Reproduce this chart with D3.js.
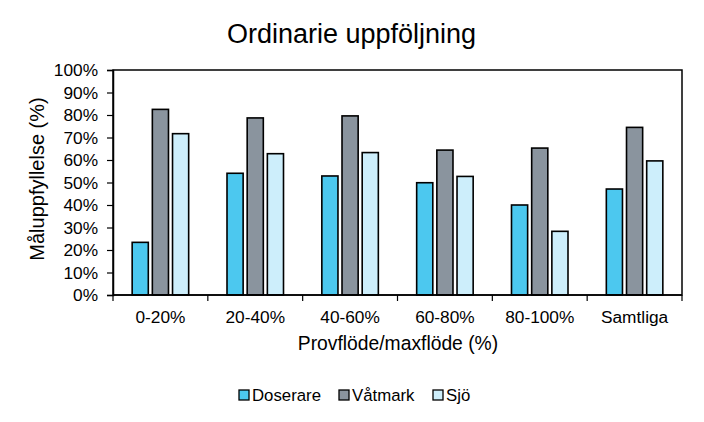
<!DOCTYPE html>
<html><head><meta charset="utf-8">
<script src="https://cdn.jsdelivr.net/npm/d3@7"></script>
<style>body{margin:0;background:#fff}svg{display:block;font-family:"Liberation Sans",Arial,sans-serif}</style>
</head><body><svg width="704" height="422"></svg>
<script>
const categories = ["0-20%","20-40%","40-60%","60-80%","80-100%","Samtliga"];
const seriesNames = ["Doserare","Våtmark","Sjö"];
const doserare = [23.4, 54.1, 52.9, 49.9, 40.0, 47.1];
const vatmark  = [82.5, 78.7, 79.6, 64.4, 65.3, 74.5];
const sjo      = [71.7, 62.8, 63.3, 52.7, 28.3, 59.6];
const yTicks = [0,10,20,30,40,50,60,70,80,90,100];
const colors = ["#4cc8ef","#8a949e","#cdeefb"];
const seriesValues = [doserare, vatmark, sjo];

const svg = d3.select("svg");
const L=113, R=682, T=70, B=295;
const x = d3.scaleBand().domain(categories).range([L,R]).paddingInner(0).paddingOuter(0);
const x1 = d3.scaleBand().domain(seriesNames).range([0,x.bandwidth()]).paddingInner(0.2).paddingOuter(0.95);
const y = d3.scaleLinear().domain([0,100]).range([B,T]);

// bars
categories.forEach((c,i)=>{
  seriesNames.forEach((s,j)=>{
    svg.append("rect")
      .attr("x", x(c)+x1(s)).attr("width", x1.bandwidth())
      .attr("y", y(seriesValues[j][i])).attr("height", B-y(seriesValues[j][i]))
      .attr("fill", colors[j]).attr("stroke","#000").attr("stroke-width",1.6);
  });
});

// frame
svg.append("rect").attr("x",L).attr("y",T).attr("width",R-L).attr("height",B-T)
  .attr("fill","none").attr("stroke","#000").attr("stroke-width",1.5);

// y axis
const ya = svg.append("g").attr("transform",`translate(${L},0)`)
  .call(d3.axisLeft(y).tickValues(yTicks).tickFormat(d=>d+"%").tickSize(6).tickPadding(9));
ya.select(".domain").attr("stroke-width",1.5);
ya.selectAll("line").attr("stroke-width",1.2);
ya.selectAll("text").attr("font-size",17.3).attr("fill","#000").attr("font-family","Liberation Sans, Arial, sans-serif");

// x axis
const xTickPos = d3.range(categories.length+1).map(i=>L+i*x.step());
const xa = svg.append("g");
xTickPos.forEach(p=>xa.append("line").attr("x1",p).attr("x2",p).attr("y1",B).attr("y2",B+6).attr("stroke","#000").attr("stroke-width",1.2));
svg.append("line").attr("x1",L).attr("x2",R).attr("y1",B).attr("y2",B).attr("stroke","#000").attr("stroke-width",1.6);
categories.forEach(c=>{
  svg.append("text").attr("x",x(c)+x.bandwidth()/2).attr("y",323).attr("text-anchor","middle")
    .attr("font-size",17.3).text(c);
});

// titles
svg.append("text").attr("x",351.5).attr("y",43).attr("text-anchor","middle").attr("font-size",27).text("Ordinarie uppföljning");
svg.append("text").attr("x",398).attr("y",350).attr("text-anchor","middle").attr("font-size",19.3).text("Provflöde/maxflöde (%)");
svg.append("text").attr("transform","translate(44,179) rotate(-90)").attr("text-anchor","middle").attr("font-size",20).text("Måluppfyllelse (%)");

// legend
const legX = [239, 339, 433];
seriesNames.forEach((s,j)=>{
  svg.append("rect").attr("x",legX[j]).attr("y",390).attr("width",10).attr("height",10)
    .attr("fill",colors[j]).attr("stroke","#000").attr("stroke-width",1.3);
  svg.append("text").attr("x",legX[j]+13).attr("y",401).attr("font-size",16.8).text(s);
});
</script></body></html>
